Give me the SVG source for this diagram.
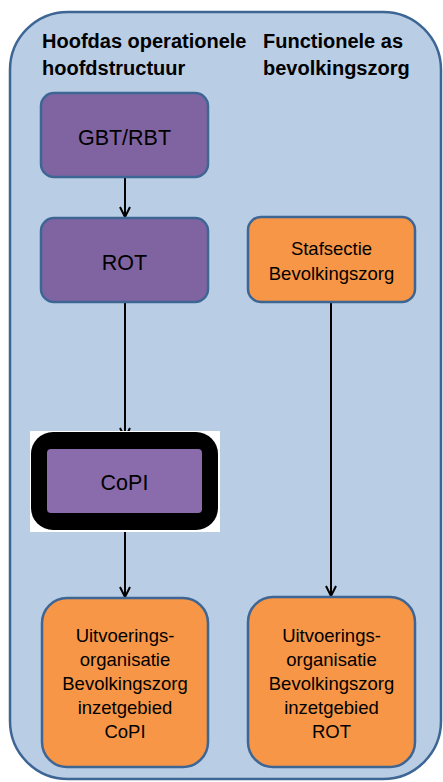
<svg xmlns="http://www.w3.org/2000/svg" width="443" height="782" viewBox="0 0 443 782">
  <style>
    .panel { fill: #B9CDE5; stroke: #3D6695; stroke-width: 2.5; }
    .purple { fill: #8064A2; stroke: #3D6695; stroke-width: 2.5; }
    .orange { fill: #F79646; stroke: #3D6695; stroke-width: 2.5; }
    .head { font-family: "Liberation Sans", Arial, sans-serif; font-weight: bold; font-size: 20px; fill: #000; }
    .lbl { font-family: "Liberation Sans", Arial, sans-serif; font-size: 21.5px; fill: #000; text-anchor: middle; }
    .small { font-family: "Liberation Sans", Arial, sans-serif; font-size: 18.5px; fill: #000; text-anchor: middle; }
    .conn { stroke: #000; stroke-width: 2; fill: none; }
  </style>
  <defs>
    <marker id="arrow" viewBox="0 0 12 12" refX="11" refY="6" markerWidth="12" markerHeight="12" markerUnits="userSpaceOnUse" orient="auto">
      <polyline points="1,1 11,6 1,11" fill="none" stroke="#000" stroke-width="2"/>
    </marker>
  </defs>

  <!-- background panel -->
  <rect class="panel" x="10" y="12" width="431" height="767" rx="58" ry="58"/>

  <!-- column headings -->
  <g id="heading-left">
    <text class="head" x="42" y="48">Hoofdas operationele</text>
    <text class="head" x="42" y="75">hoofdstructuur</text>
  </g>
  <g id="heading-right">
    <text class="head" x="263" y="48">Functionele as</text>
    <text class="head" x="263" y="75">bevolkingszorg</text>
  </g>

  <!-- connectors -->
  <g id="connectors">
    <line class="conn" x1="125" y1="177" x2="125" y2="217" marker-end="url(#arrow)"/>
    <line class="conn" x1="125" y1="302" x2="125" y2="438" marker-end="url(#arrow)"/>
    <line class="conn" x1="125" y1="532" x2="125" y2="597" marker-end="url(#arrow)"/>
    <line class="conn" x1="331" y1="302" x2="331" y2="596" marker-end="url(#arrow)"/>
  </g>

  <g id="gbt-rbt">
    <rect class="purple" x="41" y="93" width="167" height="84" rx="13" ry="13"/>
    <text class="lbl" x="124.5" y="145">GBT/RBT</text>
  </g>

  <g id="rot">
    <rect class="purple" x="41" y="218" width="167" height="84" rx="13" ry="13"/>
    <text class="lbl" x="124.5" y="270">ROT</text>
  </g>

  <g id="copi">
    <rect x="30" y="431" width="190" height="101" fill="#FFFFFF"/>
    <rect x="31" y="432" width="187" height="98" rx="22" ry="22" fill="#000"/>
    <rect x="47" y="449" width="155" height="64" rx="4" ry="4" fill="#8A6BAB"/>
    <text class="lbl" x="124.5" y="490">CoPI</text>
  </g>

  <g id="stafsectie">
    <rect class="orange" x="248" y="217" width="167" height="85" rx="13" ry="13"/>
    <text class="small" x="331.5" y="255">Stafsectie</text>
    <text class="small" x="331.5" y="280">Bevolkingszorg</text>
  </g>

  <g id="uitvoering-copi">
    <rect class="orange" x="42" y="598" width="166" height="169" rx="25" ry="25"/>
    <text class="small" x="125" y="642">Uitvoerings-</text>
    <text class="small" x="125" y="666">organisatie</text>
    <text class="small" x="125" y="690">Bevolkingszorg</text>
    <text class="small" x="125" y="714">inzetgebied</text>
    <text class="small" x="125" y="738">CoPI</text>
  </g>

  <g id="uitvoering-rot">
    <rect class="orange" x="248" y="597" width="167" height="170" rx="25" ry="25"/>
    <text class="small" x="331.5" y="642">Uitvoerings-</text>
    <text class="small" x="331.5" y="666">organisatie</text>
    <text class="small" x="331.5" y="690">Bevolkingszorg</text>
    <text class="small" x="331.5" y="714">inzetgebied</text>
    <text class="small" x="331.5" y="738">ROT</text>
  </g>
</svg>
